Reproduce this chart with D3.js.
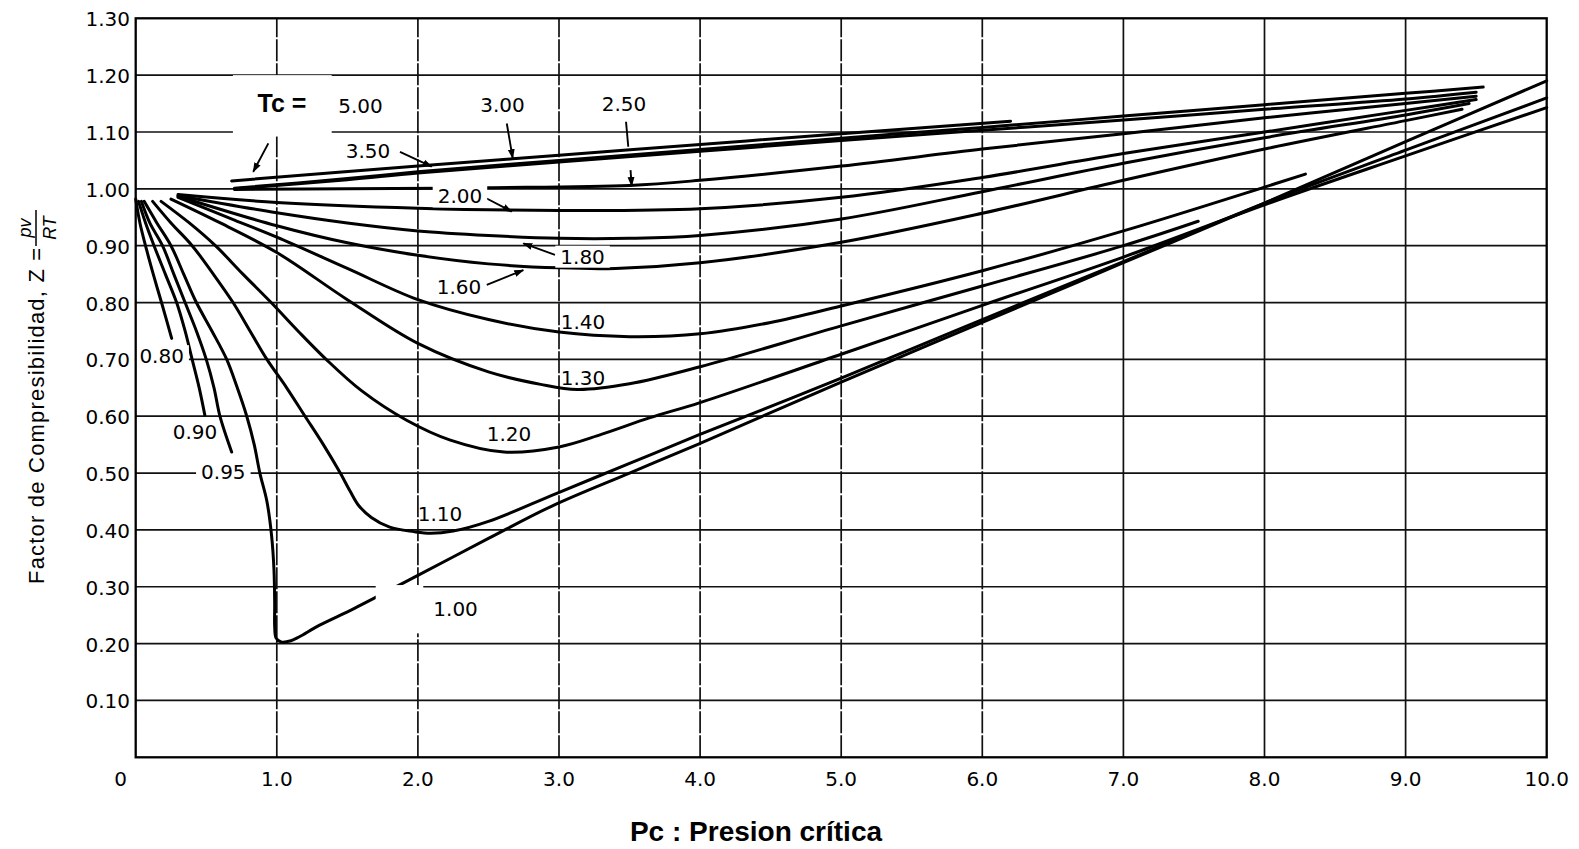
<!DOCTYPE html>
<html><head><meta charset="utf-8">
<script src="https://cdn.jsdelivr.net/npm/d3@7"></script>
<style>body{margin:0;background:#fff} svg{display:block}</style>
</head><body>
<svg id="chart" width="1579" height="849"></svg>
<script>
// ---------- DATA ----------
const xTicks = [0,1,2,3,4,5,6,7,8,9,10];
const xTickLabels = ["0","1.0","2.0","3.0","4.0","5.0","6.0","7.0","8.0","9.0","10.0"];
const yTicks = [0.1,0.2,0.3,0.4,0.5,0.6,0.7,0.8,0.9,1.0,1.1,1.2,1.3];
const yTickLabels = ["0.10","0.20","0.30","0.40","0.50","0.60","0.70","0.80","0.90","1.00","1.10","1.20","1.30"];

// Z vs Pc for each Tc  ([Pc, Z])
const tc_080 = [[0.0,0.982],[0.03,0.94],[0.078,0.892],[0.13,0.845],[0.183,0.80],[0.255,0.737]];
const tc_090 = [[0.02,0.978],[0.07,0.94],[0.13,0.90],[0.21,0.85],[0.29,0.80],[0.35,0.75],[0.40,0.70],[0.45,0.65],[0.49,0.602]];
const tc_095 = [[0.04,0.978],[0.1,0.94],[0.19,0.90],[0.27,0.85],[0.35,0.80],[0.43,0.75],[0.50,0.70],[0.555,0.65],[0.597,0.60],[0.68,0.537]];
const tc_100 = [[0.06,0.978],[0.15,0.94],[0.25,0.90],[0.34,0.85],[0.43,0.80],[0.54,0.75],[0.645,0.70],[0.72,0.65],[0.787,0.60],[0.84,0.55],[0.88,0.50],[0.93,0.45],[0.963,0.39],[0.98,0.33],[0.985,0.27],[0.985,0.23],[0.995,0.21],[1.03,0.203],[1.1,0.205],[1.16,0.212],[1.3,0.232],[1.55,0.262],[2.0,0.32],[2.5,0.385],[2.95,0.442],[3.5,0.50],[3.98,0.55],[5,0.66],[6,0.765],[7,0.87],[8,0.975],[9,1.083],[10,1.19]];
const tc_110 = [[0.12,0.978],[0.25,0.94],[0.40,0.90],[0.55,0.85],[0.69,0.80],[0.81,0.75],[0.93,0.70],[1.07,0.65],[1.2,0.60],[1.33,0.55],[1.45,0.50],[1.52,0.468],[1.58,0.443],[1.67,0.422],[1.8,0.405],[1.97,0.397],[2.09,0.394],[2.25,0.398],[2.5,0.415],[2.98,0.464],[3.5,0.517],[3.99,0.567],[5,0.667],[6,0.77],[7,0.872],[8,0.975],[9,1.068],[10,1.16]];
const tc_120 = [[0.18,0.978],[0.38,0.94],[0.565,0.90],[0.76,0.85],[0.96,0.80],[1.15,0.75],[1.35,0.70],[1.6,0.645],[1.92,0.593],[2.23,0.558],[2.61,0.537],[3.0,0.546],[3.3,0.568],[3.64,0.597],[4,0.624],[5,0.709],[6,0.795],[7,0.88],[8,0.972],[9,1.058],[10,1.143]];
const tc_130 = [[0.25,0.982],[0.6,0.94],[1.0,0.888],[1.5,0.805],[2.0,0.728],[2.5,0.678],[2.87,0.656],[3.13,0.647],[3.5,0.657],[4,0.687],[5,0.759],[6,0.829],[7,0.90],[7.53,0.943]];
const tc_140 = [[0.3,0.985],[0.7,0.945],[1.0,0.915],[1.5,0.86],[2.0,0.805],[2.5,0.77],[3.0,0.748],[3.5,0.74],[4,0.745],[4.5,0.765],[5,0.794],[6,0.856],[7,0.926],[8,1.003],[8.29,1.026]];
const tc_160 = [[0.3,0.987],[1,0.935],[1.5,0.905],[2,0.883],[2.5,0.868],[3,0.861],[3.4,0.86],[4,0.87],[5,0.906],[6,0.957],[7,1.015],[8,1.07],[9,1.12],[9.4,1.14]];
const tc_180 = [[0.3,0.988],[1,0.958],[1.5,0.94],[2,0.926],[2.5,0.918],[3,0.913],[3.5,0.913],[4,0.918],[5,0.947],[6,0.995],[7,1.045],[8,1.09],[9,1.13],[9.45,1.15]];
const tc_200 = [[0.3,0.99],[1,0.976],[2,0.966],[3,0.962],[4,0.965],[5,0.985],[6,1.02],[7,1.062],[8,1.1],[9,1.138],[9.5,1.157]];
const tc_250 = [[0.7,0.999],[1.5,1.0],[2.5,1.002],[3.5,1.006],[4,1.015],[5,1.04],[6,1.07],[7,1.097],[8,1.125],[9,1.15],[9.5,1.163]];
const tc_300 = [[0.7,1.001],[1.5,1.018],[2,1.03],[3,1.05],[4,1.069],[5,1.089],[6,1.108],[7,1.128],[8,1.148],[9,1.168],[9.55,1.179]];
const tc_350 = [[0.7,1.0],[1.5,1.016],[2,1.028],[3,1.047],[4,1.066],[5,1.085],[6,1.103],[7,1.121],[8,1.14],[9,1.158],[9.5,1.17]];
const tc_500 = [[0.68,1.014],[2,1.04],[3,1.059],[4,1.078],[5,1.097],[6.2,1.119]];

const seriesNames = ["0.80","0.90","0.95","1.00","1.10","1.20","1.30","1.40","1.60","1.80","2.00","2.50","3.00","3.50","5.00"];
const seriesData  = [tc_080,tc_090,tc_095,tc_100,tc_110,tc_120,tc_130,tc_140,tc_160,tc_180,tc_200,tc_250,tc_300,tc_350,tc_500];

// curve labels (anchor in data units)
const labelText = ["5.00","3.50","3.00","2.50","2.00","1.80","1.60","1.40","1.30","1.20","1.10","1.00","0.80","0.90","0.95"];
const labelAt   = [[1.593,1.146],[1.646,1.067],[2.600,1.147],[3.461,1.149],[2.298,0.987],[3.167,0.881],[2.291,0.828],[3.170,0.766],[3.170,0.667],[2.646,0.569],[2.157,0.428],[2.267,0.262],[0.184,0.706],[0.420,0.573],[0.621,0.503]];
const labelBg   = [false,false,false,false,true,true,false,false,false,false,false,false,true,false,true];

// leader lines / arrows (data units)
const leaderFrom = [[0.94,1.080],[1.873,1.065],[2.63,1.115],[3.475,1.118],[3.507,1.033],[2.488,0.983],[2.972,0.884],[2.488,0.831]];
const leaderTo   = [[0.833,1.030],[2.098,1.039],[2.672,1.054],[3.491,1.074],[3.515,1.005],[2.665,0.960],[2.747,0.904],[2.747,0.857]];
const leaderHead = [true,true,true,false,true,true,true,true];

// white masking boxes (data units: [p0, z0, p1, z1])
const maskBoxes = [[0.689,1.092,1.389,1.200],[1.701,0.218,2.038,0.303]];

// ---------- CHART ----------
const svg = d3.select("#chart");
svg.append("rect").attr("width",1579).attr("height",849).attr("fill","#fff");
const x = d3.scaleLinear().domain([0,10]).range([135.7,1546.7]);
const y = d3.scaleLinear().domain([0,1.3]).range([757.3,18.3]);

const defs = svg.append("defs");
defs.append("marker").attr("id","arr").attr("viewBox","0 0 10 10")
  .attr("refX",9).attr("refY",5).attr("markerWidth",10).attr("markerHeight",10)
  .attr("markerUnits","userSpaceOnUse").attr("orient","auto")
  .append("path").attr("d","M0,1.5L10,5L0,8.5Z").attr("fill","#000");

const grid = svg.append("g").attr("stroke","#111").attr("stroke-width",1.7);
grid.selectAll("line.h").data(yTicks.filter(v=>v<1.3)).join("line")
  .attr("x1",x(0)).attr("x2",x(10)).attr("y1",d=>y(d)).attr("y2",d=>y(d));
grid.selectAll("line.v").data(xTicks.filter(v=>v>0&&v<10)).join("line")
  .attr("y1",y(0)).attr("y2",y(1.3)).attr("x1",d=>x(d)).attr("x2",d=>x(d))
  .attr("stroke-dasharray",d=>d<=6?"22,2":null);

const line = d3.line().x(d=>x(d[0])).y(d=>y(d[1])).curve(d3.curveCatmullRom.alpha(0.5));
svg.append("g").selectAll("path").data(seriesData).join("path")
  .attr("d",line).attr("fill","none").attr("stroke","#000")
  .attr("stroke-width",3).attr("stroke-linejoin","round").attr("stroke-linecap","round");

// masking boxes
svg.append("g").selectAll("rect").data(maskBoxes).join("rect")
  .attr("x",d=>x(d[0])).attr("y",d=>y(d[3]))
  .attr("width",d=>x(d[2])-x(d[0])).attr("height",d=>y(d[1])-y(d[3]))
  .attr("fill","#fff");

// leaders
svg.append("g").selectAll("line").data(leaderFrom).join("line")
  .attr("x1",d=>x(d[0])).attr("y1",d=>y(d[1]))
  .attr("x2",(d,i)=>x(leaderTo[i][0])).attr("y2",(d,i)=>y(leaderTo[i][1]))
  .attr("stroke","#000").attr("stroke-width",1.9)
  .attr("marker-end",(d,i)=>leaderHead[i]?"url(#arr)":null);

// labels
const lg = svg.append("g").attr("font-family","DejaVu Sans, sans-serif").attr("font-size",20).attr("fill","#000");
labelText.forEach((t,i)=>{
  const g = lg.append("g");
  const tx = g.append("text").attr("x",x(labelAt[i][0])).attr("y",y(labelAt[i][1]))
    .attr("dy","0.36em").attr("text-anchor","middle").text(t);
  if(labelBg[i]){
    const b = tx.node().getBBox();
    g.insert("rect","text").attr("x",b.x-5).attr("y",b.y+1).attr("width",b.width+10).attr("height",b.height-2).attr("fill","#fff");
  }
});
// Tc =
svg.append("text").attr("x",x(1.037)).attr("y",y(1.151)).attr("dy","0.36em")
  .attr("text-anchor","middle").attr("font-family","Liberation Sans, Arial, sans-serif")
  .attr("font-weight","bold").attr("font-size",25).text("Tc =");

// frame
svg.append("rect").attr("x",x(0)).attr("y",y(1.3)).attr("width",x(10)-x(0)).attr("height",y(0)-y(1.3))
  .attr("fill","none").attr("stroke","#000").attr("stroke-width",2.3);

// tick labels
const tk = svg.append("g").attr("font-family","DejaVu Sans, sans-serif").attr("font-size",20).attr("fill","#000");
tk.selectAll("text.x").data(xTicks).join("text")
  .attr("x",d=>x(d)-(d===0?15:0)).attr("y",786).attr("text-anchor","middle")
  .text((d,i)=>xTickLabels[i]);
tk.selectAll("text.y").data(yTicks).join("text")
  .attr("x",130).attr("y",d=>y(d)).attr("dy","0.40em").attr("text-anchor","end")
  .text((d,i)=>yTickLabels[i]);

// axis titles
svg.append("text").attr("x",756).attr("y",841).attr("text-anchor","middle")
  .attr("font-family","Liberation Sans, Arial, sans-serif").attr("font-weight","bold")
  .attr("font-size",28).text("Pc : Presion crítica");

const yt = svg.append("g").attr("transform","translate(44,584) rotate(-90)")
  .attr("font-family","Liberation Sans, Arial, sans-serif").attr("fill","#000");
yt.append("text").attr("x",0).attr("y",0).attr("font-size",22).attr("letter-spacing",1.2)
  .text("Factor de Compresibilidad, Z =");
yt.append("line").attr("x1",338).attr("x2",374).attr("y1",-8).attr("y2",-8).attr("stroke","#000").attr("stroke-width",1.5);
yt.append("text").attr("x",356).attr("y",-13).attr("text-anchor","middle").attr("font-style","italic").attr("font-size",18).text("pv");
yt.append("text").attr("x",356).attr("y",12).attr("text-anchor","middle").attr("font-style","italic").attr("font-size",18).text("RT");
</script>
</body></html>
